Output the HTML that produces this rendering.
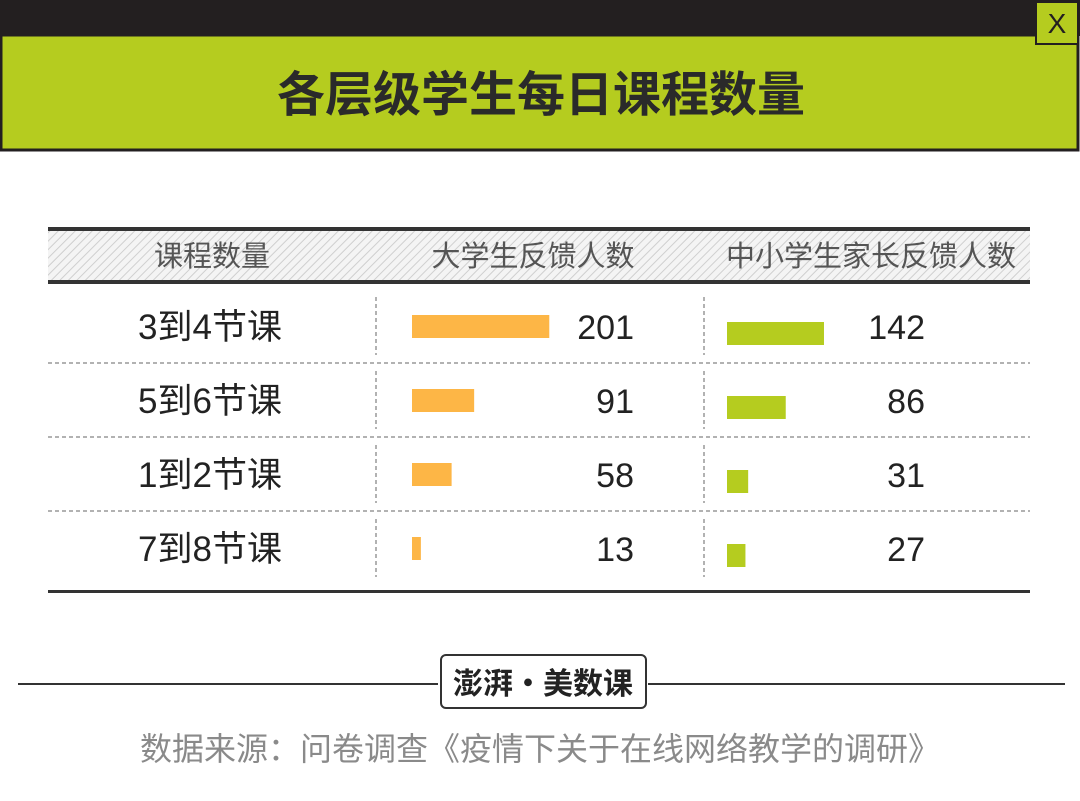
<!DOCTYPE html>
<html><head><meta charset="utf-8"><style>
body{margin:0;width:1080px;height:796px;background:#fff;overflow:hidden;font-family:"Liberation Sans","Noto Sans CJK SC",sans-serif}
</style></head><body>
<svg width="1080" height="796" viewBox="0 0 1080 796">
<defs>
<pattern id="hatch" width="6" height="6" patternUnits="userSpaceOnUse" patternTransform="rotate(45)">
<rect width="6" height="6" fill="#f4f4f4"/><line x1="0" y1="0" x2="0" y2="6" stroke="#cfcfcf" stroke-width="2"/>
</pattern>
</defs>
<rect x="0" y="0" width="1080" height="36" fill="#231f20"/>
<rect x="1" y="35" width="1077" height="115" fill="#b5cc1f" stroke="#231f20" stroke-width="3"/>
<g>
<rect x="1036" y="2" width="42" height="42" fill="#b5cc1f" stroke="#231f20" stroke-width="2"/>
<text x="1057" y="33" text-anchor="middle" font-size="28" fill="#231f20">X</text>
</g>
<text x="541" y="111" text-anchor="middle" font-size="48" font-weight="bold" fill="#2a2a2a" font-family="'Noto Sans CJK SC',sans-serif">各层级学生每日课程数量</text>
<rect x="48" y="231" width="982" height="50" fill="url(#hatch)"/>
<rect x="48" y="227" width="982" height="4" fill="#333"/>
<rect x="48" y="280" width="982" height="4" fill="#333"/>
<g font-size="29" fill="#555" text-anchor="middle" font-family="'Noto Sans CJK SC',sans-serif">
<text x="212" y="266">课程数量</text>
<text x="533" y="266">大学生反馈人数</text>
<text x="871" y="266">中小学生家长反馈人数</text>
</g>
<rect x="48" y="590" width="982" height="3" fill="#333"/>
<g id="rows"></g>
<line x1="18" y1="684" x2="438" y2="684" stroke="#333" stroke-width="2"/>
<line x1="648" y1="684" x2="1065" y2="684" stroke="#333" stroke-width="2"/>
<g>
<rect x="441" y="655" width="205" height="53" rx="5" fill="#fff" stroke="#333" stroke-width="2"/>
<text x="543" y="694" text-anchor="middle" font-size="30" font-weight="bold" fill="#222" font-family="'Noto Sans CJK SC',sans-serif">澎湃·美数课</text>
</g>
<text x="540" y="760" text-anchor="middle" font-size="32" fill="#8a8a8a" font-family="'Noto Sans CJK SC',sans-serif">数据来源：问卷调查《疫情下关于在线网络教学的调研》</text>
</svg>
<script>
const categories=["3到4节课","5到6节课","1到2节课","7到8节课"];
const uniValues=[201,91,58,13];
const parentValues=[142,86,31,27];
const NS="http://www.w3.org/2000/svg";
const g=document.getElementById('rows');
const scale=v=>v*0.683;
const rowY=i=>327+i*74;
function mk(t,a){const e=document.createElementNS(NS,t);for(const k in a)e.setAttribute(k,a[k]);g.appendChild(e);return e;}
categories.forEach((c,i)=>{
 const y=rowY(i);
 let t=mk('text',{x:210,y:y+12,'text-anchor':'middle','font-size':35,fill:'#222'});t.textContent=c;
 
 
 if(i<categories.length-1){const l=mk('line',{x1:48,x2:1030,y1:y+36,y2:y+36,stroke:'#999','stroke-width':1.5,'stroke-dasharray':'4 3'});
 
 }
 [376,704].forEach(x=>{const l=mk('line',{x1:x,x2:x,y1:y-30,y2:y+28,stroke:'#999','stroke-width':1.5,'stroke-dasharray':'4 3'});
 
 });
 const b1=mk('rect',{x:412,y:y-12,width:scale(uniValues[i]),height:23,fill:'#fdb646'});
 
 
 const v1=mk('text',{x:634,y:y+12,'text-anchor':'end','font-size':34,fill:'#222'});v1.textContent=uniValues[i];
 
 
 const b2=mk('rect',{x:727,y:y-5,width:scale(parentValues[i]),height:23,fill:'#b5cc1f'});
 
 
 const v2=mk('text',{x:925,y:y+12,'text-anchor':'end','font-size':34,fill:'#222'});v2.textContent=parentValues[i];
 
 
});
</script>
</body></html>
